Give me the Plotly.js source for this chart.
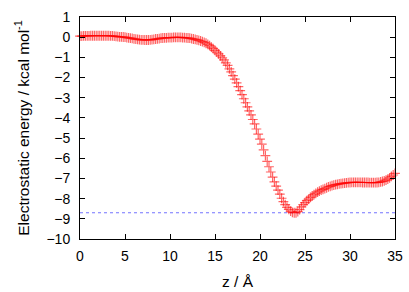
<!DOCTYPE html>
<html>
<head>
<meta charset="utf-8">
<script src="https://cdn.plot.ly/plotly-3.0.1.min.js"></script>
<style>html,body{margin:0;padding:0;background:#fff;}#chart{width:409px;height:292px;}</style>
</head>
<body>
<div id="chart"></div>
<script>
// z positions (Å)
const zValues = [
0,0.2,0.4,0.6,0.8,1,1.2,1.4,1.6,1.8,
2,2.2,2.4,2.6,2.8,3,3.2,3.4,3.6,3.8,
4,4.2,4.4,4.6,4.8,5,5.2,5.4,5.6,5.8,
6,6.2,6.4,6.6,6.8,7,7.2,7.4,7.6,7.8,
8,8.2,8.4,8.6,8.8,9,9.2,9.4,9.6,9.8,
10,10.2,10.4,10.6,10.8,11,11.2,11.4,11.6,11.8,
12,12.2,12.4,12.6,12.8,13,13.2,13.4,13.6,13.8,
14,14.2,14.4,14.6,14.8,15,15.2,15.4,15.6,15.8,
16,16.2,16.4,16.6,16.8,17,17.2,17.4,17.6,17.8,
18,18.2,18.4,18.6,18.8,19,19.2,19.4,19.6,19.8,
20,20.2,20.4,20.6,20.8,21,21.2,21.4,21.6,21.8,
22,22.2,22.4,22.6,22.8,23,23.2,23.4,23.6,23.8,
24,24.2,24.4,24.6,24.8,25,25.2,25.4,25.6,25.8,
26,26.2,26.4,26.6,26.8,27,27.2,27.4,27.6,27.8,
28,28.2,28.4,28.6,28.8,29,29.2,29.4,29.6,29.8,
30,30.2,30.4,30.6,30.8,31,31.2,31.4,31.6,31.8,
32,32.2,32.4,32.6,32.8,33,33.2,33.4,33.6,33.8,
34,34.2,34.4,34.6,34.8,35];
// Electrostatic energy (kcal/mol)
const energy = [
0.05,0.05,0.06,0.06,0.06,0.06,0.07,0.07,0.07,0.07,
0.07,0.07,0.07,0.07,0.07,0.07,0.07,0.06,0.06,0.05,
0.04,0.03,0.02,0.02,0.01,0.0,-0.02,-0.03,-0.05,-0.06,
-0.08,-0.1,-0.11,-0.12,-0.13,-0.13,-0.14,-0.14,-0.14,-0.13,
-0.12,-0.11,-0.09,-0.08,-0.07,-0.05,-0.04,-0.03,-0.03,-0.02,
-0.02,-0.02,-0.01,-0.01,-0.01,-0.01,-0.01,-0.02,-0.02,-0.03,
-0.04,-0.05,-0.07,-0.09,-0.11,-0.13,-0.16,-0.19,-0.22,-0.26,
-0.3,-0.36,-0.42,-0.49,-0.57,-0.65,-0.74,-0.83,-0.93,-1.02,
-1.12,-1.27,-1.4,-1.57,-1.72,-1.9,-2.08,-2.26,-2.45,-2.65,
-2.85,-3.05,-3.25,-3.45,-3.65,-3.85,-4.08,-4.3,-4.55,-4.8,
-5.05,-5.3,-5.58,-5.87,-6.15,-6.42,-6.68,-6.93,-7.17,-7.38,
-7.58,-7.78,-7.98,-8.15,-8.3,-8.43,-8.53,-8.62,-8.68,-8.7,
-8.7,-8.64,-8.54,-8.41,-8.3,-8.2,-8.1,-8.02,-7.94,-7.87,
-7.8,-7.74,-7.68,-7.63,-7.58,-7.54,-7.5,-7.46,-7.42,-7.39,
-7.36,-7.33,-7.31,-7.29,-7.27,-7.26,-7.24,-7.23,-7.22,-7.21,
-7.2,-7.19,-7.19,-7.19,-7.19,-7.19,-7.19,-7.2,-7.2,-7.2,
-7.2,-7.21,-7.21,-7.21,-7.21,-7.2,-7.19,-7.17,-7.15,-7.12,
-7.08,-7.03,-6.97,-6.9,-6.83,-6.75];
const minEnergy = -8.7;
const xRange = [0, 35];
const yRange = [-10, 1];

const traces = [
  {
    x: xRange, y: [minEnergy, minEnergy], mode: 'lines',
    line: {color: 'rgba(90,90,255,0.85)', width: 1, dash: 'dot'},
    hoverinfo: 'skip', cliponaxis: false
  },
  {
    x: zValues, y: energy, mode: 'markers', cliponaxis: false,
    marker: {symbol: 'cross-thin', size: 7, opacity: 0.6,
             color: 'rgb(255,0,0)', line: {color: 'rgb(255,0,0)', width: 1.2}}
  }
];

const axisCommon = {
  showline: true, linecolor: '#000', linewidth: 1, mirror: 'ticks',
  ticks: 'inside', ticklen: 5, tickwidth: 1, tickcolor: '#000',
  showgrid: false, zeroline: false,
  tickfont: {family: 'Liberation Sans, Arial, sans-serif', size: 14, color: '#000'}
};

const layout = {
  width: 409, height: 292,
  margin: {l: 80, r: 14, t: 17, b: 53},
  paper_bgcolor: '#fff', plot_bgcolor: '#fff',
  showlegend: false,
  font: {family: 'Liberation Sans, Arial, sans-serif', size: 14, color: '#000'},
  xaxis: Object.assign({}, axisCommon, {
    range: xRange, dtick: 5, tick0: 0, ticklabelstandoff: 4,
    title: {text: 'z / Å', standoff: 13, font: {size: 15.5}}
  }),
  yaxis: Object.assign({}, axisCommon, {
    range: yRange, dtick: 1, tick0: 0, ticklabelstandoff: 6,
    title: {text: 'Electrostatic energy / kcal mol<sup>-1</sup>', standoff: 13, font: {size: 15.5}}
  })
};

Plotly.newPlot('chart', traces, layout, {staticPlot: true, displayModeBar: false});
</script>
</body>
</html>
